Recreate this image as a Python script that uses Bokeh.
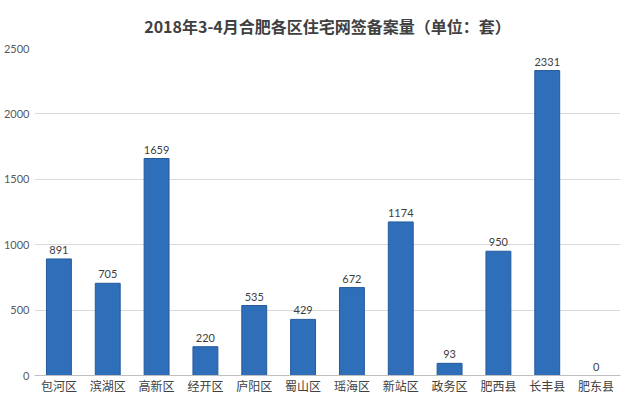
from bokeh.plotting import figure
from bokeh.models import ColumnDataSource, FixedTicker, Title
from bokeh.core.properties import value
from bokeh.embed import file_html
from bokeh.resources import INLINE

districts = ["包河区", "滨湖区", "高新区", "经开区", "庐阳区", "蜀山区",
             "瑶海区", "新站区", "政务区", "肥西县", "长丰县", "肥东县"]
counts = [891, 705, 1659, 220, 535, 429, 672, 1174, 93, 950, 2331, 0]
y_ticks = [0, 500, 1000, 1500, 2000, 2500]

src = ColumnDataSource(dict(d=districts, v=counts, lbl=[str(c) for c in counts]))

p = figure(x_range=districts, y_range=(0, 2500), width=624, height=396,
           output_backend="svg", toolbar_location=None,
           min_border_left=30, min_border_right=4, min_border_top=48,
           min_border_bottom=10)

main_title = Title(text="2018年3-4月合肥各区住宅网签备案量（单位：套）",
                   align="center", text_font="Noto Sans CJK SC",
                   text_font_size="16px", text_font_style="bold",
                   text_color="#404040", standoff=0)
spacer = Title(text=" ", text_font_size="8px", standoff=0)
p.add_layout(spacer, "above")
p.add_layout(main_title, "above")

p.vbar(x="d", top="v", width=0.51, source=src,
       fill_color="#2F6FBA", line_color="#24599C", line_width=1)

p.text(x="d", y="v", text="lbl", source=src, text_align="center",
       text_baseline="bottom", y_offset=-5, text_font_size="11px",
       text_color="#404040", text_font=value("Lato"))

p.outline_line_color = None
p.xgrid.grid_line_color = None
p.ygrid.grid_line_color = "#D9D9D9"
p.yaxis.ticker = FixedTicker(ticks=y_ticks)
p.yaxis.axis_line_color = None
p.yaxis.major_tick_line_color = None
p.yaxis.major_tick_out = 0
p.yaxis.major_tick_in = 0
p.yaxis.minor_tick_line_color = None
p.yaxis.major_label_text_font_size = "11px"
p.yaxis.major_label_text_font = "Lato"
p.yaxis.major_label_text_color = "#595959"
p.yaxis.major_label_standoff = 5
p.xaxis.axis_line_color = "#BFBFBF"
p.xaxis.major_tick_line_color = None
p.xaxis.major_tick_out = 0
p.xaxis.major_tick_in = 0
p.xaxis.major_label_text_font_size = "12px"
p.xaxis.major_label_text_color = "#404040"
p.xaxis.major_label_text_font = "Noto Sans CJK SC"
p.xaxis.major_label_standoff = 1
p.x_range.range_padding = 0

open("out.html", "w").write(file_html(p, INLINE))
